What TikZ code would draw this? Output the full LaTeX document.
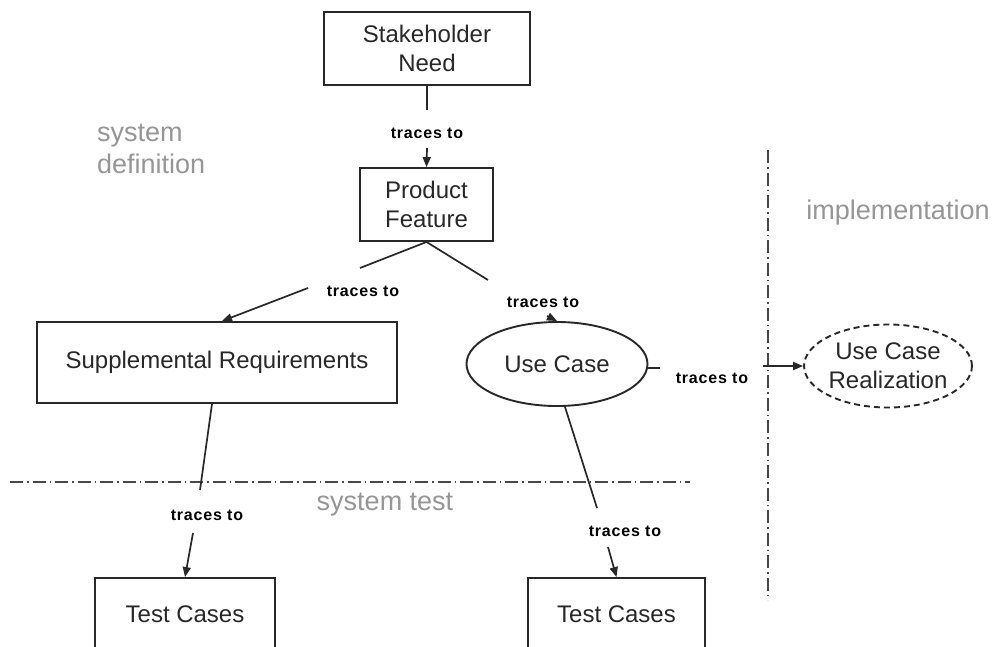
\documentclass[tikz,border=0pt]{standalone}
\usepackage{fontspec}
\setmainfont{Liberation Sans}
\newfontfamily\lblfont[LetterSpace=5]{Liberation Sans}
\usetikzlibrary{shapes.geometric,arrows.meta}
\definecolor{ink}{RGB}{40,40,40}
\definecolor{zone}{RGB}{150,150,150}
\begin{document}
\begin{tikzpicture}[x=1pt,y=-1pt,
  box/.style={draw=ink,line width=1.9pt,rectangle,inner sep=0pt,text=ink,font=\fontsize{24}{29}\selectfont,align=center},
  uc/.style={draw=ink,line width=1.9pt,ellipse,inner sep=0pt,text=ink,font=\fontsize{24}{29}\selectfont,align=center},
  lbl/.style={font=\lblfont\bfseries\fontsize{16}{18}\selectfont,text=black,inner sep=0pt},
  zonelbl/.style={text=zone,font=\fontsize{27}{32}\selectfont,inner sep=0pt,align=left},
  conn/.style={draw=ink,line width=1.7pt},
  arr/.style={conn,-{Triangle[length=10pt,width=8pt]}},
  divider/.style={draw=ink!85,line width=2pt,dash pattern=on 13pt off 4pt on 1.5pt off 4pt}]
\fill[white] (0,0) rectangle (998,646);
\clip (0,0) rectangle (998,646);

% nodes
\node[box,minimum width=206pt,minimum height=73pt] (sn) at (427,48.5) {Stakeholder\\Need};
\node[box,minimum width=133pt,minimum height=73pt] (pf) at (426.5,204.5) {Product\\Feature};
\node[box,minimum width=360pt,minimum height=81pt] (sr) at (217,362.5) {Supplemental Requirements};
\node[uc,minimum width=181pt,minimum height=84pt] (uc) at (557,364) {Use Case};
\node[uc,dash pattern=on 6pt off 4pt,minimum width=167pt,minimum height=83pt] (ucr) at (888,366) {Use Case\\Realization};
\node[box,minimum width=180pt,minimum height=72pt] (tc1) at (185,614) {Test Cases};
\node[box,minimum width=177pt,minimum height=72pt] (tc2) at (616.5,614) {Test Cases};

% labels
\node[lbl] (l1) at (427,133) {traces to};
\node[lbl] (l2) at (363,291) {traces to};
\node[lbl] (l3) at (543,302) {traces to};
\node[lbl] (l4) at (712,378) {traces to};
\node[lbl] (l5) at (207,515) {traces to};
\node[lbl] (l6) at (625,531) {traces to};

% zone labels
\node[zonelbl,anchor=west] (zd) at (97,149) {system\\definition};
\node[zonelbl] (zt) at (385,505) {system test};
\node[zonelbl] (zi) at (898,213) {implementation};

% dividers
\coordinate (h1) at (10,482);
\coordinate (h2) at (690,482);
\coordinate (v1) at (768,150);
\coordinate (v2) at (768,600);
\draw[divider] (h1) -- (h2);
\draw[divider] (v1) -- (v2);

% connector break points
\coordinate (a1) at (427,110);
\coordinate (a2) at (427,148);
\coordinate (a3) at (360,268);
\coordinate (a4) at (308,288);
\coordinate (a5) at (488,280);
\coordinate (a6) at (547,316);
\coordinate (a7) at (660,368);
\coordinate (a8) at (763,366);
\coordinate (a9) at (200,490);
\coordinate (a10) at (193,533);
\coordinate (a11) at (597,508);
\coordinate (a12) at (608,547);

\draw[conn] (sn.south) -- (a1);
\draw[arr] (a2) -- (pf.north);
\draw[conn] (pf.south) -- (a3);
\draw[arr] (a4) -- ([xshift=5pt]sr.north);
\draw[conn] (pf.south) -- (a5);
\draw[arr] (a6) -- (uc.north);
\draw[conn] ([yshift=-4pt]uc.east) -- (a7);
\draw[arr] (a8) -- (ucr.west);
\draw[conn] ([xshift=-5pt]sr.south) -- (a9);
\draw[arr] (a10) -- (tc1.north);
\draw[conn] ([xshift=8pt]uc.south) -- (a11);
\draw[arr] (a12) -- (tc2.north);
\end{tikzpicture}
\end{document}
